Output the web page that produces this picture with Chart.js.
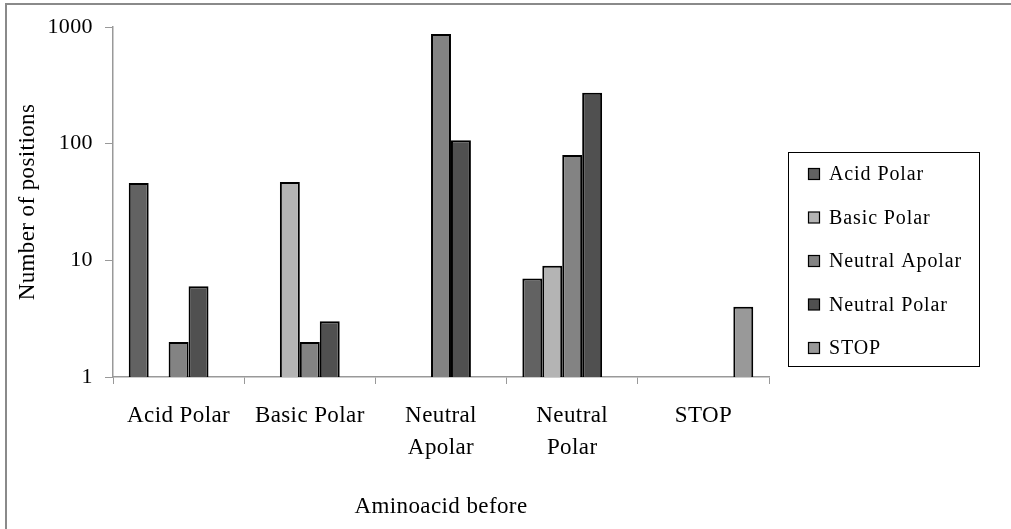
<!DOCTYPE html>
<html>
<head>
<meta charset="utf-8">
<script src="https://cdn.jsdelivr.net/npm/chart.js@4/dist/chart.umd.min.js"></script>
<style>
  html, body { margin: 0; padding: 0; background: #fff; }
  #wrap { width: 1011px; height: 529px; position: relative; }
</style>
</head>
<body>
<div id="wrap"><canvas id="c" width="1011" height="529"></canvas></div>
<script>
// ---- data ----
const categories = [["Acid Polar"], ["Basic Polar"], ["Neutral", "Apolar"], ["Neutral", "Polar"], ["STOP"]];
const seriesNames = ["Acid Polar", "Basic Polar", "Neutral Apolar", "Neutral Polar", "STOP"];
const acidPolar     = [46, null, null, 7, null];
const basicPolar    = [null, 47, null, 9, null];
const neutralApolar = [2, 2, 870, 80, null];
const neutralPolar  = [6, 3, 107, 273, null];
const stopValues    = [null, null, null, null, 4];
const yTickValues = [1, 10, 100, 1000];
const yAxisTitle = "Number of positions";
const xAxisTitle = "Aminoacid before";

const seriesColors = ["#626262", "#b4b4b4", "#838383", "#505050", "#999999"];
const seriesData = [acidPolar, basicPolar, neutralApolar, neutralPolar, stopValues];

const SERIF = "'Liberation Serif', 'Times New Roman', serif";

const framePlugin = {
  id: 'frame',
  beforeDraw(chart) {
    const ctx = chart.ctx;
    ctx.save();
    ctx.fillStyle = '#fff';
    ctx.fillRect(0, 0, chart.width, chart.height);
    ctx.strokeStyle = '#8a8a8a';
    ctx.lineWidth = 2;
    ctx.beginPath();
    ctx.moveTo(6, chart.height + 2);
    ctx.lineTo(6, 4);
    ctx.lineTo(chart.width + 2, 4);
    ctx.stroke();
    ctx.restore();
    ctx.letterSpacing = '0.4px';
  }
};

const legendPlugin = {
  id: 'boxLegend',
  afterDraw(chart) {
    const ctx = chart.ctx;
    ctx.save();
    ctx.letterSpacing = '0.9px';
    ctx.strokeStyle = '#000';
    ctx.lineWidth = 1;
    ctx.strokeRect(788.5, 152.5, 191, 214);
    ctx.font = "20px " + SERIF;
    ctx.textBaseline = 'middle';
    ctx.textAlign = 'left';
    chart.data.datasets.forEach((ds, i) => {
      const cy = 174 + i * 43.5;
      ctx.fillStyle = ds.backgroundColor;
      ctx.fillRect(808.5, cy - 5.5, 11, 11);
      ctx.strokeStyle = '#000';
      ctx.lineWidth = 1.2;
      ctx.strokeRect(808.5, cy - 5.5, 11, 11);
      ctx.fillStyle = '#000';
      ctx.fillText(ds.label, 829, cy + 1);
    });
    ctx.restore();
  }
};

new Chart(document.getElementById('c'), {
  type: 'bar',
  data: {
    labels: categories,
    datasets: seriesNames.map((name, i) => ({
      label: name,
      data: seriesData[i],
      backgroundColor: seriesColors[i],
      borderColor: '#000',
      borderWidth: 2,
      categoryPercentage: 0.76,
      barPercentage: 1.0
    }))
  },
  options: {
    responsive: false,
    animation: false,
    devicePixelRatio: 1,
    layout: { padding: { left: 0, top: 27, right: 242, bottom: 0 } },
    plugins: {
      legend: { display: false },
      tooltip: { enabled: false }
    },
    scales: {
      x: {
        grid: { display: true, drawOnChartArea: false, drawTicks: true, tickLength: 7, color: '#999', offset: true },
        border: { display: true, color: '#999', width: 1.5 },
        ticks: {
          color: '#000',
          font: { family: SERIF, size: 23, lineHeight: 1.38 },
          padding: 16,
          maxRotation: 0,
          autoSkip: false
        },
        title: {
          display: true, text: xAxisTitle, color: '#000',
          font: { family: SERIF, size: 23, lineHeight: 1.2 },
          padding: { top: 0, bottom: 8 }
        },
        afterFit(scale) { scale.height = 152; }
      },
      y: {
        type: 'logarithmic',
        min: 1,
        max: 1000,
        grid: { display: true, drawOnChartArea: false, drawTicks: true, tickLength: 8, color: '#999' },
        border: { display: true, color: '#999', width: 1.5 },
        afterBuildTicks(scale) { scale.ticks = yTickValues.map(v => ({ value: v })); },
        ticks: {
          color: '#000',
          font: { family: SERIF, size: 22 },
          padding: 12,
          callback: (v) => String(v)
        },
        title: {
          display: true, text: yAxisTitle, color: '#000',
          font: { family: SERIF, size: 23, lineHeight: 1.2 },
          padding: { top: 14, bottom: 0 }
        },
        afterFit(scale) { scale.width = 113; }
      }
    }
  },
  plugins: [framePlugin, legendPlugin]
});
</script>
</body>
</html>
